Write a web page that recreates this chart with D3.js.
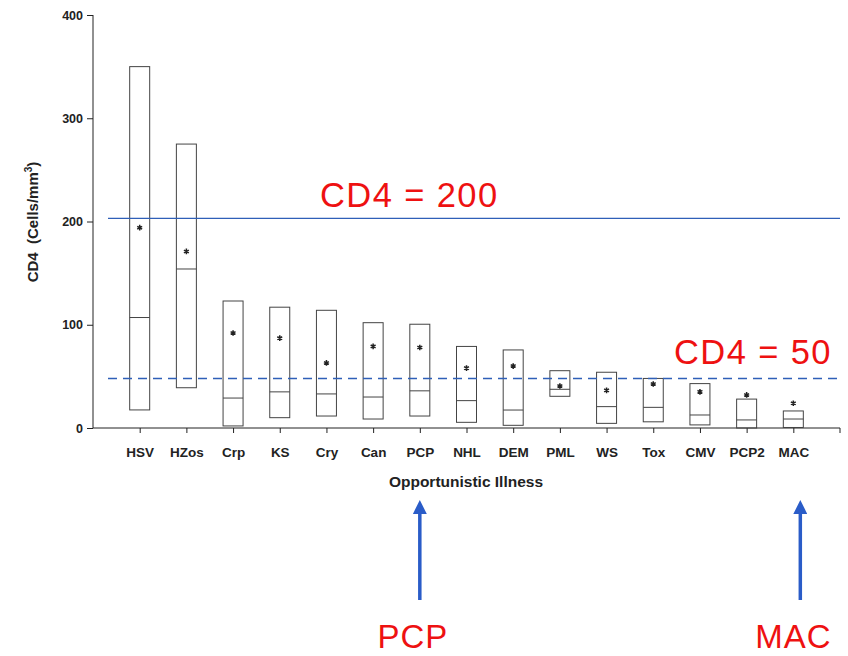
<!DOCTYPE html>
<html><head><meta charset="utf-8">
<script src="https://cdn.jsdelivr.net/npm/d3@7"></script>
<style>body{margin:0;background:#fff}svg{display:block}</style>
</head><body>
<script>
const categories = ["HSV","HZos","Crp","KS","Cry","Can","PCP","NHL","DEM","PML","WS","Tox","CMV","PCP2","MAC"];
const boxTop    = [350,275,123,117,114,102,100.5,79,75.6,55.5,54,48,43,28,16.5];
const boxBottom = [17.5,39,2,10,11.6,8.7,11.6,5.5,2.6,30.7,4.5,6,3,0,0.5];
const medians   = [107,154,29,35,33,30,36,26.5,17.4,37.5,20.7,20,12.6,7.8,8.7];
const means     = [194,171,92,87,63,79,78,58,60,40.7,36.5,42.6,35,32,24];
const yTicks = [0,100,200,300,400];
const refLines = [{value:203, dash:null, label:"CD4 = 200"},{value:48, dash:"9,6", label:"CD4 = 50"}];
const arrowTargets = ["PCP","MAC"];

const W=848,H=656;
const svg=d3.select("body").append("svg").attr("width",W).attr("height",H);
const x=d3.scalePoint().domain(categories).range([93,840]).padding(1);
const y=d3.scaleLinear().domain([0,400]).range([428,15]);
const ink="#222";
const font="Liberation Sans, Arial, sans-serif";

// axes
const yAxis=svg.append("g").attr("transform","translate(93,0)")
  .call(d3.axisLeft(y).tickValues(yTicks).tickSize(6).tickPadding(4));
yAxis.select(".domain").attr("stroke",ink).attr("d",`M0,${y(400)}V${y(0)}`);
yAxis.selectAll("line").attr("stroke",ink);
yAxis.selectAll("text").attr("font-family",font).attr("font-size",12.5).attr("font-weight","bold").attr("fill",ink);

const xAxis=svg.append("g").attr("transform","translate(0,428)")
  .call(d3.axisBottom(x).tickSize(5).tickPadding(14));
xAxis.select(".domain").attr("stroke",ink).attr("d","M93,0H840V5");
xAxis.selectAll("line").attr("stroke",ink);
xAxis.selectAll("text").attr("font-family",font).attr("font-size",13.5).attr("font-weight","bold").attr("fill",ink);

svg.append("text").attr("x",466).attr("y",487).attr("text-anchor","middle")
  .attr("font-family",font).attr("font-size",15.5).attr("font-weight","bold").attr("fill",ink)
  .text("Opportunistic Illness");
const yl=svg.append("text").attr("transform","translate(38,222) rotate(-90)").attr("text-anchor","middle")
  .attr("font-family",font).attr("font-size",15).attr("font-weight","bold").attr("fill",ink);
yl.append("tspan").text("CD4\u00a0\u00a0(Cells/mm");
yl.append("tspan").attr("font-size",10).attr("dy",-6).text("3");
yl.append("tspan").attr("dy",6).text(")");

// boxes
const bw=20;
const g=svg.append("g");
categories.forEach((c,i)=>{
  const cx=x(c);
  g.append("rect").attr("x",cx-bw/2).attr("y",y(boxTop[i])).attr("width",bw)
    .attr("height",y(boxBottom[i])-y(boxTop[i])).attr("fill","none").attr("stroke","#444").attr("stroke-width",1);
  g.append("line").attr("x1",cx-bw/2).attr("x2",cx+bw/2).attr("y1",y(medians[i])).attr("y2",y(medians[i]))
    .attr("stroke","#444");
  g.append("path").attr("transform",`translate(${cx},${y(means[i])})`)
    .attr("d",d3.symbol(d3.symbolAsterisk,22)()).attr("stroke","#222").attr("stroke-width",1.5).attr("fill","none");
});

// reference lines
refLines.forEach(r=>{
  svg.append("line").attr("x1",108).attr("x2",840).attr("y1",y(r.value)).attr("y2",y(r.value))
    .attr("stroke","#2f5fb8").attr("stroke-width",1.4).attr("stroke-dasharray",r.dash);
});
svg.append("text").attr("x",320).attr("y",207).attr("font-family",font).attr("font-size",34.5)
  .attr("letter-spacing",1.4).attr("fill","#ee1111").text(refLines[0].label);
svg.append("text").attr("x",674).attr("y",364).attr("font-family",font).attr("font-size",34.5)
  .attr("letter-spacing",1.4).attr("fill","#ee1111").text(refLines[1].label);

// arrows
const defs=svg.append("defs");
defs.append("marker").attr("id","ah").attr("viewBox","0 0 10 10").attr("refX",5).attr("refY",5)
  .attr("markerWidth",4).attr("markerHeight",4).attr("orient","auto")
  .append("path").attr("d","M0,0L10,5L0,10z").attr("fill","#2a5cc8");
arrowTargets.forEach(c=>{
  const ax=x(c)+(c==="MAC"?7:0);
  svg.append("line").attr("x1",ax).attr("x2",ax).attr("y1",600).attr("y2",507)
    .attr("stroke","#2a5cc8").attr("stroke-width",3.5).attr("marker-end","url(#ah)");
  svg.append("text").attr("x",ax-7).attr("y",648).attr("text-anchor","middle").attr("font-family",font)
    .attr("font-size",33).attr("letter-spacing",1).attr("fill","#ee1111").text(c);
});
</script>
</body></html>
